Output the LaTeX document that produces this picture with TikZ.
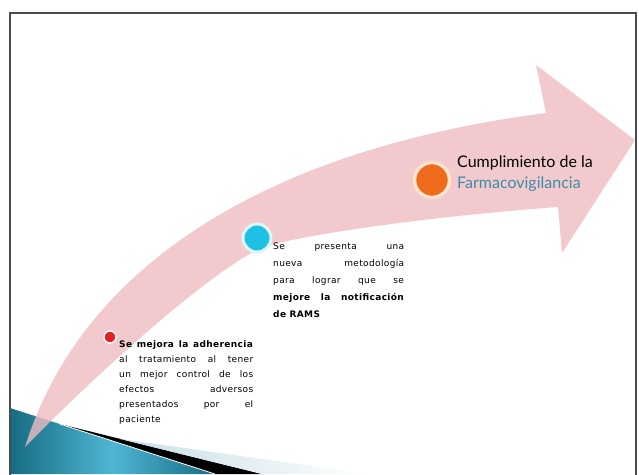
\documentclass[tikz,border=0pt]{standalone}
\usepackage{fontspec}
\setmainfont{Lato}
\newfontfamily\notefont[LetterSpace=4]{DejaVu Sans}
\usetikzlibrary{calc,positioning}

\definecolor{arrowpink}{RGB}{239,189,192}
\definecolor{dotred}{RGB}{226,32,42}
\definecolor{dotblue}{RGB}{30,192,228}
\definecolor{dotorange}{RGB}{238,106,28}
\definecolor{ringcream}{RGB}{252,228,204}
\definecolor{farmablue}{RGB}{58,140,168}
\definecolor{tealdark}{RGB}{22,108,130}
\definecolor{teallight}{RGB}{80,182,212}
\definecolor{stripegray}{RGB}{200,222,232}

\begin{document}
\begin{tikzpicture}[x=1pt,y=-1pt,
  stagedot/.style={circle,inner sep=0pt,minimum size=#1},
  smalltext/.style={inner sep=0pt,text width=134pt,align=justify,anchor=north west},
  bigtext/.style={inner sep=0pt,align=left,anchor=north west,font=\fontsize{16}{21}\selectfont}]

 \useasboundingbox (0,0) rectangle (639,474);
 \clip (0,0) rectangle (639,474);

% \draw[help lines] (0,0) grid[step=50] (639,474);

% band at the bottom
 \shade[left color=tealdark, right color=tealdark, middle color=teallight]
   (10,408) -- (215,474) -- (10,474) -- cycle;
 \fill[black] (60,424) -- (262,474) -- (215,474) -- cycle;
 \draw[white, line width=0.8pt] (60,424) -- (215,474);
 \shade[left color=stripegray, right color=white]
   (120,439) -- (370,474) -- (262,474) -- cycle;

% the curved arrow
 \coordinate (tail) at (25,447);
 \coordinate (notchup) at (546,113);
 \coordinate (headtop) at (536,65);
 \coordinate (headtip) at (635,140);
 \coordinate (headlow) at (562,253);
 \coordinate (notchlow) at (558,207);
 \coordinate (bend) at (270,245);
 \fill[arrowpink, fill opacity=0.8]
   (tail) .. controls (80,270) and (260,150) .. (notchup)
   -- (headtop) -- (headtip) -- (headlow) -- (notchlow)
   .. controls (450,215) and (330,230) .. (bend)
   .. controls (230,255) and (110,360) .. (tail)
   -- cycle;

% frame
 \draw[black!70, line width=1.6pt] (10,13) rectangle (636,500);

% stages
 \node[stagedot=12pt, fill=dotred, draw=white, line width=1.3pt] (dotA) at (110,337) {};
 \node[stagedot=28pt, fill=dotblue, draw=white!85!dotblue, line width=3pt] (dotB) at (257,238) {};
 \node[stagedot=35pt, fill=dotorange, draw=ringcream, line width=3.5pt] (dotC) at (432,180) {};

 \node[smalltext, font=\notefont\fontsize{9}{15}\selectfont] (adherencia) at (119,340)
   {\textbf{Se mejora la adherencia}\linebreak al tratamiento al tener\linebreak un mejor control de los\linebreak efectos adversos\linebreak presentados por el\linebreak paciente};
 \node[smalltext, text width=131pt, font=\notefont\fontsize{9}{17}\selectfont] (metodologia) at (273,243)
   {Se presenta una\linebreak nueva metodología\linebreak para lograr que se\linebreak \textbf{mejore la notificación}\linebreak \textbf{de RAMS}};
 \node[bigtext] (cumplimiento) at (457,156)
   {Cumplimiento de la\\\textcolor{farmablue}{Farmacovigilancia}};

\end{tikzpicture}
\end{document}
